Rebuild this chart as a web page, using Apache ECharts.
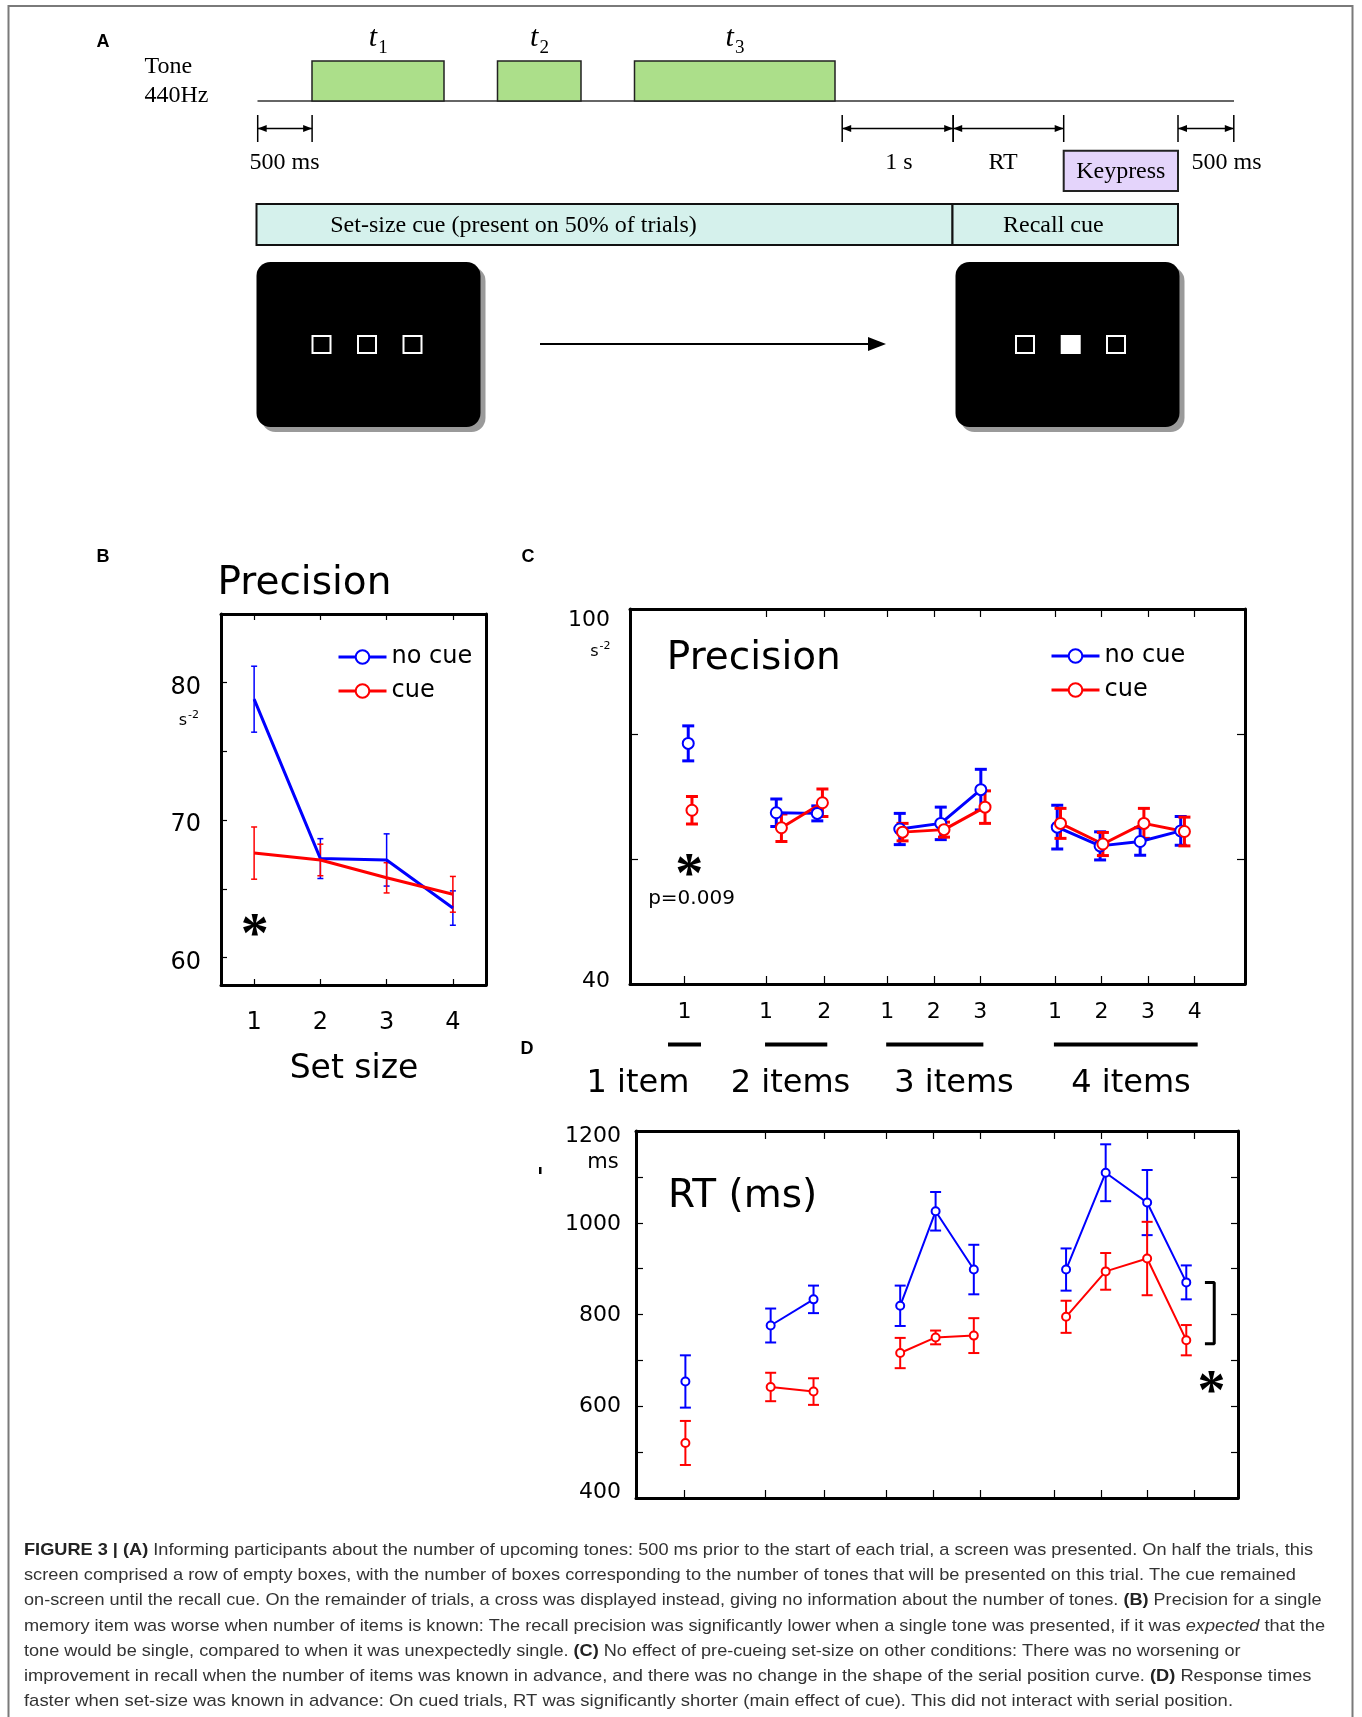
<!DOCTYPE html>
<html>
<head>
<meta charset="utf-8">
<script src="https://cdn.jsdelivr.net/npm/echarts@6/dist/echarts.min.js"></script>
<style>
  html, body { margin: 0; background: #fff; }
  #main { width: 1362px; height: 1717px; }
</style>
</head>
<body>
<div id="main"></div>
<script>
// ---------- data ----------
// panel B: precision vs set size
const setSizes = [1, 2, 3, 4];
const bNoCue = [78.8, 67.2, 67.1, 63.6];
const bNoCueErr = [2.4, 1.45, 1.9, 1.25];
const bCue = [67.6, 67.1, 65.8, 64.6];
const bCueErr = [1.9, 1.15, 1.1, 1.3];

// panels C and D: one entry per (set size, serial position) condition
const condSetSize = [1, 2, 2, 3, 3, 3, 4, 4, 4, 4];
const condPosition = [1, 1, 2, 1, 2, 3, 1, 2, 3, 4];
const condTickX = [1, 2.75, 4, 5.35, 6.35, 7.35, 8.95, 9.95, 10.95, 11.95];
const groupNames = ['1 item', '2 items', '3 items', '4 items'];

// C: precision by serial position
const cNoCueX = [1.08, 2.97, 3.85, 5.62, 6.5, 7.36, 9.0, 9.92, 10.78, 11.65];
const cCueX = [1.16, 3.08, 3.96, 5.68, 6.57, 7.45, 9.07, 9.98, 10.86, 11.73];
const cNoCue = [78.5, 67.4, 67.3, 64.8, 65.7, 71.1, 65.1, 62.1, 62.8, 64.5];
const cNoCueErr = [2.8, 2.2, 1.2, 2.5, 2.6, 3.25, 3.5, 2.25, 2.2, 2.3];
const cCue = [67.8, 65.0, 69.0, 64.3, 64.7, 68.3, 65.7, 62.4, 65.7, 64.4];
const cCueErr = [2.2, 2.2, 2.2, 1.4, 1.2, 2.6, 2.4, 1.85, 2.4, 2.3];

// D: response times (ms)
const dX = [1.03, 2.86, 3.78, 5.64, 6.4, 7.22, 9.2, 10.05, 10.94, 11.78];
const dNoCue = [654, 776, 833, 819, 1025, 898, 898, 1109, 1044, 870];
const dNoCueErr = [57, 37, 30, 44, 42, 54, 46, 62, 71, 37];
const dCue = [520, 642, 632, 716, 750, 754, 795, 894, 922, 744];
const dCueErr = [48, 31, 29, 33, 15, 38, 35, 40, 80, 33];

// significance marks (data coordinates)
const bStar = [1.01, 62.3];
const cStar = [1.1, 58.9];
const cPText = [1.15, 53.6];
const dStar = [12.32, 650];
const dBracketX = [12.18, 12.38];
const dBracketY = [870, 736];

// ---------- style ----------
const SANS = '"DejaVu Sans", sans-serif';
const SERIF = '"Liberation Serif", "Times New Roman", serif';
const CAP = '"Liberation Sans", Arial, sans-serif';
const BLUE = '#0000ff';
const RED = '#ff0000';

const chart = echarts.init(document.getElementById('main'));

function errorBars(capHalf, lw, color) {
  return function (params, api) {
    const x = api.value(0);
    const lo = api.coord([x, api.value(1)]);
    const hi = api.coord([x, api.value(2)]);
    const style = {stroke: color, lineWidth: lw, fill: null};
    return {
      type: 'group',
      children: [
        {type: 'line', shape: {x1: lo[0], y1: lo[1], x2: hi[0], y2: hi[1]}, style},
        {type: 'line', shape: {x1: lo[0] - capHalf, y1: lo[1], x2: lo[0] + capHalf, y2: lo[1]}, style},
        {type: 'line', shape: {x1: hi[0] - capHalf, y1: hi[1], x2: hi[0] + capHalf, y2: hi[1]}, style}
      ]
    };
  };
}

function errSeries(axis, xs, ys, errs, color, capHalf, lw) {
  return {
    type: 'custom',
    xAxisIndex: axis, yAxisIndex: axis,
    renderItem: errorBars(capHalf, lw, color),
    encode: {x: 0, y: [1, 2]},
    data: xs.map((x, i) => [x, ys[i] - errs[i], ys[i] + errs[i]]),
    silent: true, z: 3
  };
}

function lineSeries(name, axis, pts, color, lw, symbolSize, showSymbol) {
  return {
    name, type: 'line', xAxisIndex: axis, yAxisIndex: axis,
    data: pts, color,
    symbol: 'emptyCircle', symbolSize, showSymbol,
    lineStyle: {width: lw, color},
    itemStyle: {color, borderWidth: 2},
    silent: true, z: 4
  };
}

function boxAxis(gridIndex, position, min, max, extra) {
  return Object.assign({
    type: 'value', gridIndex, position, min, max,
    axisLine: {show: true, onZero: false, lineStyle: {color: '#000', width: 3}},
    axisTick: {show: true, inside: true, length: 7, lineStyle: {color: '#000', width: 1.2}},
    axisLabel: {show: false},
    splitLine: {show: false}
  }, extra);
}

// y labels sit a little off their ticks in the original; rich padding nudges them
function yLabels(size, margin, values, shifts) {
  const rich = {};
  values.forEach((v, i) => {
    const s = shifts[i];
    rich['v' + i] = {fontSize: size, fontFamily: SANS, color: '#000',
      padding: s >= 0 ? [2 * s, 0, 0, 0] : [0, 0, -2 * s, 0]};
  });
  return {
    show: true, customValues: values, margin, color: '#000', fontSize: size, fontFamily: SANS,
    formatter: v => {
      const i = values.indexOf(v);
      return i < 0 ? String(v) : '{v' + i + '|' + v + '}';
    },
    rich
  };
}

const posLabel = v => {
  let best = 0;
  condTickX.forEach((t, i) => { if (Math.abs(t - v) < Math.abs(condTickX[best] - v)) best = i; });
  return String(condPosition[best]);
};

// ---------- axes ----------
const tickStyle = (len, values) => ({inside: true, length: len, customValues: values, lineStyle: {color: '#000', width: 1.2}});

const xAxis = [
  boxAxis(0, 'bottom', 0.5, 4.5, {
    axisTick: tickStyle(6, setSizes),
    axisLabel: {show: true, customValues: setSizes, margin: 26, color: '#000', fontSize: 24, fontFamily: SANS}
  }),
  boxAxis(0, 'top', 0.5, 4.5, {axisTick: tickStyle(6, setSizes)}),
  boxAxis(1, 'bottom', -0.17, 13.03, {
    axisTick: tickStyle(8, condTickX),
    axisLabel: {show: true, customValues: condTickX, formatter: posLabel, margin: 17,
      color: '#000', fontSize: 22, fontFamily: SANS}
  }),
  boxAxis(1, 'top', -0.17, 13.03, {axisTick: tickStyle(8, condTickX.slice(1))}),
  boxAxis(2, 'bottom', -0.03, 12.89, {axisTick: tickStyle(8, condTickX)}),
  boxAxis(2, 'top', -0.03, 12.89, {axisTick: tickStyle(8, condTickX.slice(1))})
];

const yAxis = [
  boxAxis(0, 'left', 58, 85, {
    axisTick: tickStyle(6, [60, 65, 70, 75, 80]),
    axisLabel: yLabels(24, 20, [60, 70, 80], [5, 5, 5])
  }),
  boxAxis(0, 'right', 58, 85, {axisTick: {show: false}}),
  boxAxis(1, 'left', 40, 100, {
    axisTick: tickStyle(8, [60, 80]),
    axisLabel: yLabels(22, 20, [40, 100], [-3, 11])
  }),
  boxAxis(1, 'right', 40, 100, {axisTick: tickStyle(8, [60, 80])}),
  boxAxis(2, 'left', 400, 1200, {
    interval: 100,
    axisLabel: yLabels(22, 15, [400, 600, 800, 1000, 1200], [-6, 0, 1, 2, 5])
  }),
  boxAxis(2, 'right', 400, 1200, {interval: 100})
];

// ---------- series ----------
const series = [];
series.push(lineSeries('no cue', 0, setSizes.map((x, i) => [x, bNoCue[i]]), BLUE, 3, 10, false));
series.push(lineSeries('cue', 0, setSizes.map((x, i) => [x, bCue[i]]), RED, 3, 10, false));
series.push(errSeries(0, setSizes, bNoCue, bNoCueErr, BLUE, 3, 1.5));
series.push(errSeries(0, setSizes, bCue, bCueErr, RED, 3, 1.5));

function groupedPanel(axis, xsBlue, xsRed, blue, blueErr, red, redErr, lw, symSize, errLw, capHalf) {
  const sets = [[BLUE, 'no cue', xsBlue, blue, blueErr], [RED, 'cue', xsRed, red, redErr]];
  sets.forEach(([color, name, xs, ys, errs]) => {
    series.push(errSeries(axis, xs, ys, errs, color, capHalf, errLw));
    setSizes.forEach(s => {
      const pts = [];
      condSetSize.forEach((c, i) => { if (c === s) pts.push([xs[i], ys[i]]); });
      series.push(lineSeries(name, axis, pts, color, lw, symSize, true));
    });
  });
}
groupedPanel(2, cNoCueX, cCueX, cNoCue, cNoCueErr, cCue, cCueErr, 3, 11, 3, 6);
groupedPanel(4, dX, dX, dNoCue, dNoCueErr, dCue, dCueErr, 2, 8, 2, 5.5);

// bracket between the two curves at the last serial position
series.push({
  type: 'line', xAxisIndex: 4, yAxisIndex: 4, silent: true, symbol: 'none',
  lineStyle: {color: '#000', width: 3},
  data: [[dBracketX[0], dBracketY[0]], [dBracketX[1], dBracketY[0]],
         [dBracketX[1], dBracketY[1]], [dBracketX[0], dBracketY[1]]]
});

const legendBase = {
  data: ['no cue', 'cue'], orient: 'vertical', itemWidth: 48, itemHeight: 17, itemGap: 10,
  padding: 0, selectedMode: false,
  lineStyle: {width: 3},
  itemStyle: {borderWidth: 2.5},
  textStyle: {fontSize: 24, fontFamily: SANS, color: '#000'}
};

chart.setOption({
  animation: false,
  backgroundColor: '#fff',
  grid: [
    {left: 221, top: 614, width: 265, height: 371},
    {left: 630, top: 609, width: 615, height: 375},
    {left: 636, top: 1131, width: 602, height: 367}
  ],
  legend: [
    Object.assign({left: 337, top: 645}, legendBase),
    Object.assign({left: 1050, top: 644}, legendBase)
  ],
  xAxis, yAxis, series
});

// ---------- annotations and the schematic (panel A) ----------
function text(x, y, str, size, extra) {
  return {
    type: 'text', x, y, silent: true,
    style: Object.assign({text: str, fontSize: size, fontFamily: SANS, fill: '#000',
      align: 'center', verticalAlign: 'middle'}, extra)
  };
}
function seg(x1, y1, x2, y2, lw, color) {
  return {type: 'line', silent: true, shape: {x1, y1, x2, y2}, style: {stroke: color || '#000', lineWidth: lw || 1.5}};
}
function rect(x, y, w, h, fill, stroke, lw, r) {
  return {type: 'rect', silent: true, shape: {x, y, width: w, height: h, r: r || 0},
    style: {fill, stroke: stroke || null, lineWidth: lw || 0}};
}
function dimension(x1, x2) {
  const y = 128.5, head = 9, hw = 3.5;
  return [
    seg(x1, 115, x1, 142, 1.5), seg(x2, 115, x2, 142, 1.5), seg(x1, y, x2, y, 1.5),
    {type: 'polygon', silent: true, shape: {points: [[x1, y], [x1 + head, y - hw], [x1 + head, y + hw]]}, style: {fill: '#000'}},
    {type: 'polygon', silent: true, shape: {points: [[x2, y], [x2 - head, y - hw], [x2 - head, y + hw]]}, style: {fill: '#000'}}
  ];
}
function screen(x, y, filledIndex, squareXs) {
  const out = [
    rect(x + 5, y + 5, 224, 165, '#9a9a9a', null, 0, 14),
    rect(x, y, 224, 165, '#000', null, 0, 14)
  ];
  squareXs.forEach((cx, i) => {
    out.push(rect(cx - 9, 336, 18, 17, i === filledIndex ? '#fff' : null, '#fff', 2));
  });
  return out;
}
function tLabel(cx, digit) {
  return [
    text(cx - 5, 38, 't', 30, {fontFamily: SERIF, fontStyle: 'italic'}),
    text(cx + 5, 48, digit, 19, {fontFamily: SERIF})
  ];
}
function star(p, size) {
  return text(p[0], p[1] + size * 0.2, '*', size, {fontFamily: SERIF, fontWeight: 'bold'});
}

const px = (grid, v) => chart.convertToPixel({gridIndex: grid}, v);

const g = [];
// figure frame
g.push({type: 'rect', silent: true, shape: {x: 8.5, y: 6, width: 1344, height: 1740},
  style: {fill: null, stroke: '#7a7a7a', lineWidth: 2}});

// panel letters
[['A', 103, 42], ['B', 103, 557], ['C', 528, 557], ['D', 527, 1049]].forEach(([l, x, y]) => {
  g.push(text(x, y, l, 18, {fontFamily: CAP, fontWeight: 'bold'}));
});

// panel A: timeline
g.push(text(144.5, 66.5, 'Tone', 24, {fontFamily: SERIF, align: 'left'}));
g.push(text(144.5, 96, '440Hz', 24, {fontFamily: SERIF, align: 'left'}));
g.push(seg(257.5, 101, 1234, 101, 1.5, '#333'));
[[312, 132, '1'], [497.5, 83.5, '2'], [634.5, 200.5, '3']].forEach(([x, w, d]) => {
  g.push(rect(x, 61, w, 40, '#acdf8a', '#222', 1.5));
  g.push(...tLabel(x + w / 2, d));
});
g.push(...dimension(257.7, 312.1));
g.push(...dimension(842.2, 953.2));
g.push(...dimension(953.2, 1063.7));
g.push(...dimension(1178, 1233.8));
g.push(text(284.6, 163, '500 ms', 24, {fontFamily: SERIF}));
g.push(text(899, 163, '1 s', 24, {fontFamily: SERIF}));
g.push(text(1003, 163, 'RT', 24, {fontFamily: SERIF}));
g.push(text(1226.5, 163, '500 ms', 24, {fontFamily: SERIF}));
g.push(rect(1063.7, 150.7, 114.3, 40.3, '#e4d4fb', '#222', 2));
g.push(text(1120.8, 172, 'Keypress', 24, {fontFamily: SERIF}));
g.push(rect(256.5, 204, 696, 41, '#d5f1ec', '#111', 2));
g.push(rect(952.5, 204, 225.5, 41, '#d5f1ec', '#111', 2));
g.push(text(513.5, 225.5, 'Set-size cue (present on 50% of trials)', 24, {fontFamily: SERIF}));
g.push(text(1053.3, 225.5, 'Recall cue', 24, {fontFamily: SERIF}));
g.push(...screen(256.5, 262, -1, [321.5, 367, 412.5]));
g.push(...screen(955.5, 262, 1, [1025, 1070.7, 1116]));
g.push(seg(540, 344, 872, 344, 1.8));
g.push({type: 'polygon', silent: true, shape: {points: [[886, 344], [868, 337], [868, 351]]}, style: {fill: '#000'}});

// panel B annotations
g.push(text(304.4, 584, 'Precision', 39));
g.push(text(354, 1069, 'Set size', 33));
g.push(text(183, 721, 's', 16));
g.push(text(193.5, 715, '-2', 11));
g.push(star(px(0, bStar), 56));

// panel C annotations
g.push(text(666.8, 659, 'Precision', 39, {align: 'left'}));
g.push(text(594.5, 652, 's', 16));
g.push(text(605, 646, '-2', 11));
g.push(star(px(1, cStar), 56));
const pp = px(1, cPText);
g.push(text(pp[0], pp[1], 'p=0.009', 20));

// condition labels under panel C
const groupLabelX = [638, 790.5, 954, 1131];
setSizes.forEach((s, k) => {
  const ticks = condTickX.filter((t, i) => condSetSize[i] === s).map(t => px(1, [t, 40])[0]);
  const x1 = ticks.length === 1 ? ticks[0] - 16.5 : ticks[0] - 1;
  const x2 = ticks.length === 1 ? ticks[0] + 16.5 : ticks[ticks.length - 1] + 3;
  g.push(rect(x1, 1042.5, x2 - x1, 4, '#000'));
  g.push(text(groupLabelX[k], 1084, groupNames[k], 32));
});

// panel D annotations
g.push(text(668, 1196.5, 'RT (ms)', 39, {align: 'left'}));
g.push(text(603, 1163, 'ms', 21));
g.push(rect(539, 1167, 2.5, 7, '#000'));
g.push(star(px(2, dStar), 56));

// caption, each line stretched to the width it has in the original
const capLines = [
  '{b|FIGURE 3 | (A)}{n| Informing participants about the number of upcoming tones: 500 ms prior to the start of each trial, a screen was presented. On half the trials, this}',
  '{n|screen comprised a row of empty boxes, with the number of boxes corresponding to the number of tones that will be presented on this trial. The cue remained}',
  '{n|on-screen until the recall cue. On the remainder of trials, a cross was displayed instead, giving no information about the number of tones. }{b|(B)}{n| Precision for a single}',
  '{n|memory item was worse when number of items is known: The recall precision was significantly lower when a single tone was presented, if it was }{i|expected}{n| that the}',
  '{n|tone would be single, compared to when it was unexpectedly single. }{b|(C)}{n| No effect of pre-cueing set-size on other conditions: There was no worsening or}',
  '{n|improvement in recall when the number of items was known in advance, and there was no change in the shape of the serial position curve. }{b|(D)}{n| Response times}',
  '{n|faster when set-size was known in advance: On cued trials, RT was significantly shorter (main effect of cue). This did not interact with serial position.}'
];
const capLineEnds = [1313, 1296, 1321.5, 1325, 1240.5, 1311.5, 1233];
const capFonts = {
  n: '17px "Liberation Sans"',
  b: 'bold 17px "Liberation Sans"',
  i: 'italic 17px "Liberation Sans"'
};
const ctx = document.createElement('canvas').getContext('2d');
function richWidth(line) {
  let w = 0;
  line.replace(/\{(\w)\|([^}]*)\}/g, (m, k, s) => {
    ctx.font = capFonts[k];
    w += ctx.measureText(s).width;
    return m;
  });
  return w;
}
const capRich = {
  n: {fontSize: 17, fontFamily: CAP, fill: '#333'},
  b: {fontSize: 17, fontFamily: CAP, fontWeight: 'bold', fill: '#222'},
  i: {fontSize: 17, fontFamily: CAP, fontStyle: 'italic', fill: '#333'}
};
capLines.forEach((line, k) => {
  const sx = (capLineEnds[k] - 24) / richWidth(line);
  g.push({
    type: 'text', silent: true, x: 24, y: 1550.4 + k * 25.2, scaleX: sx, originX: 0, originY: 0,
    style: {text: line, rich: capRich, fontSize: 17, fontFamily: CAP, align: 'left', verticalAlign: 'middle'}
  });
});

chart.setOption({graphic: {elements: g}});
</script>
</body>
</html>
